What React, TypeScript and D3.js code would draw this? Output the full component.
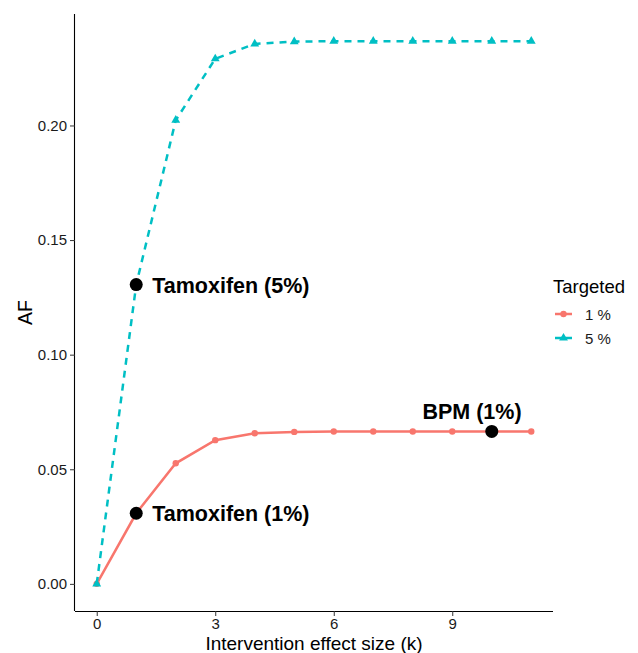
import React, { useEffect, useRef } from 'react'
import * as d3 from 'd3'

// intervention effect size k
const effectSize = [0, 1, 2, 3, 4, 5, 6, 7, 8, 9, 10, 11]
// AF for targeted 1% and 5%
const af1 = [0, 0.0308, 0.0526, 0.0627, 0.0657, 0.0663, 0.0665, 0.0665, 0.0665, 0.0665, 0.0665, 0.0665]
const af5 = [0, 0.1306, 0.2023, 0.2291, 0.2356, 0.2366, 0.2368, 0.2368, 0.2368, 0.2368, 0.2368, 0.2368]

const seriesNames = ['1 %', '5 %']
const seriesColours = ['#F8766D', '#00BFC4']

const xTicks = [0, 3, 6, 9]
const yTicks = [0, 0.05, 0.1, 0.15, 0.2]

const labels = [
  { text: 'Tamoxifen (5%)', k: 1, af: 0.1306, anchor: 'start' },
  { text: 'Tamoxifen (1%)', k: 1, af: 0.0308, anchor: 'start' },
  { text: 'BPM (1%)', k: 10, af: 0.0665, anchor: 'middle' }
]

const W = 638
const H = 653
const margin = { top: 14, right: 85, bottom: 42, left: 75 }
const font = "'Liberation Sans', Arial, Helvetica, sans-serif"

export default function App() {
  const ref = useRef<SVGSVGElement>(null)

  useEffect(() => {
    const svg = d3.select(ref.current)
    svg.selectAll('*').remove()

    const width = W - margin.left - margin.right
    const height = H - margin.top - margin.bottom

    // ggplot style 5% expansion
    const xs = d3.scaleLinear().domain([-0.55, 11.55]).range([0, width])
    const yMax = d3.max(af5) as number
    const yPad = yMax * 0.05
    const ys = d3.scaleLinear().domain([-yPad, yMax + yPad]).range([height, 0])

    const g = svg.append('g').attr('transform', `translate(${margin.left},${margin.top})`)

    g.append('g')
      .attr('transform', `translate(0,${height})`)
      .call(d3.axisBottom(xs).tickValues(xTicks).tickSize(5).tickPadding(2).tickFormat(d3.format('d')))
      .call(ax => {
        ax.select('.domain').attr('stroke', '#000').attr('stroke-width', 1.1).attr('d', `M0,0.5H${width}`)
        ax.selectAll('.tick line').attr('stroke', '#333')
        ax.selectAll('.tick text').attr('font-size', 15).attr('fill', '#1a1a1a').attr('font-family', font)
      })

    g.append('g')
      .call(d3.axisLeft(ys).tickValues(yTicks).tickSize(5).tickPadding(3).tickFormat(d3.format('.2f')))
      .call(ax => {
        ax.select('.domain').attr('stroke', '#000').attr('stroke-width', 1.1).attr('d', `M-0.5,0V${height}`)
        ax.selectAll('.tick line').attr('stroke', '#333')
        ax.selectAll('.tick text').attr('font-size', 15).attr('fill', '#1a1a1a').attr('font-family', font)
      })

    const series = [af1, af5]
    const line = d3.line<number>().x((d, i) => xs(effectSize[i])).y(d => ys(d))

    series.forEach((vals, si) => {
      g.append('path')
        .datum(vals)
        .attr('fill', 'none')
        .attr('stroke', seriesColours[si])
        .attr('stroke-width', 2.5)
        .attr('stroke-dasharray', si === 1 ? '7,6' : null)
        .attr('d', line)
    })

    // points
    g.selectAll('circle.p1')
      .data(af1)
      .enter().append('circle')
      .attr('cx', (d, i) => xs(effectSize[i]))
      .attr('cy', d => ys(d))
      .attr('r', 3.2)
      .attr('fill', seriesColours[0])

    const tri = d3.symbol().type(d3.symbolTriangle).size(34)
    g.selectAll('path.p5')
      .data(af5)
      .enter().append('path')
      .attr('d', tri)
      .attr('transform', (d, i) => `translate(${xs(effectSize[i])},${ys(d)})`)
      .attr('fill', seriesColours[1])

    // annotations
    labels.forEach(l => {
      g.append('circle')
        .attr('cx', xs(l.k))
        .attr('cy', ys(l.af))
        .attr('r', 6.5)
        .attr('fill', '#000')
      const t = g.append('text')
        .attr('font-family', font)
        .attr('font-weight', 'bold')
        .attr('font-size', 21.5)
        .attr('fill', '#000')
        .text(l.text)
      if (l.anchor === 'start') {
        t.attr('x', xs(l.k) + 16).attr('y', ys(l.af) + 8)
      } else {
        t.attr('text-anchor', 'middle').attr('x', xs(l.k - 0.5)).attr('y', ys(l.af) - 12)
      }
    })

    // axis titles
    svg.append('text')
      .attr('x', margin.left + width / 2)
      .attr('y', H - 3)
      .attr('text-anchor', 'middle')
      .attr('font-family', font)
      .attr('font-size', 19)
      .attr('fill', '#000')
      .text('Intervention effect size (k)')

    svg.append('text')
      .attr('transform', `translate(32,${margin.top + height / 2}) rotate(-90)`)
      .attr('text-anchor', 'middle')
      .attr('font-family', font)
      .attr('font-size', 19.5)
      .attr('fill', '#000')
      .text('AF')

    // legend
    const lg = svg.append('g').attr('transform', 'translate(553,0)')
    lg.append('text')
      .attr('x', 0).attr('y', 293)
      .attr('font-family', font).attr('font-size', 18.5).attr('fill', '#000')
      .text('Targeted')
    seriesNames.forEach((name, i) => {
      const y = 314 + i * 24
      lg.append('line')
        .attr('x1', 2).attr('x2', 19).attr('y1', y).attr('y2', y)
        .attr('stroke', seriesColours[i]).attr('stroke-width', 2.5)
      if (i === 0) {
        lg.append('circle').attr('cx', 10.5).attr('cy', y).attr('r', 3.2).attr('fill', seriesColours[i])
      } else {
        lg.append('path').attr('d', tri).attr('transform', `translate(10.5,${y})`).attr('fill', seriesColours[i])
      }
      lg.append('text')
        .attr('x', 32).attr('y', y + 5.5)
        .attr('font-family', font).attr('font-size', 15).attr('fill', '#1a1a1a')
        .text(name)
    })
  }, [])

  return (
    <svg ref={ref} width={W} height={H}
      style={{ position: 'absolute', left: 0, top: 0, background: '#fff' }} />
  )
}
